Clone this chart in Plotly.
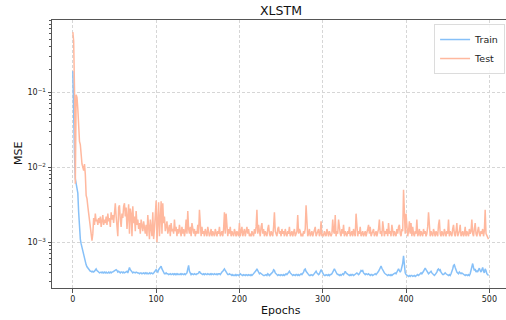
import plotly.graph_objects as go

# Test MSE (units of 1e-3), epochs 0..499
test_e3 = [
    630, 480, 110, 6, 92, 85, 60, 26, 22, 20,
    12, 11, 10, 9, 11, 8, 4.2, 3.8, 3.0, 2.4,
    1.8, 1.4, 1.1, 1.05, 1.3, 2.1, 1.7, 2.4, 1.9, 2.0,
    1.7, 2.1, 1.8, 2.2, 1.6, 1.9, 2.3, 1.7, 2.0, 1.8,
    2.2, 1.7, 2.4, 1.9, 2.1, 1.6, 2.5, 2.0, 2.3, 1.8,
    2.8, 3.3, 2.2, 1.5, 1.2, 2.9, 3.1, 2.0, 1.6, 2.4,
    2.1, 3.0, 3.3, 2.2, 2.9, 1.5, 2.6, 3.2, 1.3, 2.8,
    2.4, 1.2, 3.0, 1.8, 2.2, 1.4, 2.6, 1.7, 2.0, 1.5,
    1.8, 1.3, 2.0, 1.6, 1.4, 1.9, 1.5, 1.3, 1.7, 1.2,
    2.3, 1.4, 1.1, 2.0, 1.6, 1.2, 2.5, 1.1, 1.5, 3.0,
    3.6, 1.0, 2.0, 3.4, 1.2, 2.8, 3.5, 1.3, 3.3, 1.8,
    2.2, 1.4, 1.6, 1.9, 1.3, 1.5, 1.7, 1.2, 1.8, 1.4,
    1.5, 1.3, 2.0, 1.4, 1.6, 1.2, 1.5, 1.3, 1.7, 1.4,
    1.2, 1.6, 1.3, 1.5, 1.2, 1.4, 2.0, 1.3, 2.6, 1.5,
    1.3, 1.6, 1.2, 1.8, 1.4, 1.3, 1.5, 1.2, 1.4, 1.3,
    1.7, 1.3, 2.7, 1.5, 1.2, 1.6, 1.3, 1.4, 1.2, 1.5,
    1.3, 1.2, 1.6, 1.4, 1.2, 1.3, 1.5, 1.2, 1.4, 1.3,
    1.2, 1.5, 1.3, 1.2, 1.4, 1.3, 1.6, 1.2, 1.3, 1.4,
    1.2, 1.5, 2.5, 1.3, 2.4, 1.4, 1.2, 1.5, 1.3, 1.6,
    1.2, 1.4, 1.3, 1.2, 1.5, 1.3, 1.2, 1.4, 1.3, 1.2,
    1.8, 1.2, 1.4, 1.6, 1.2, 1.3, 1.5, 1.2, 1.4, 1.6,
    1.3, 1.5, 1.2, 1.3, 1.2, 1.4, 1.3, 1.2, 1.5, 1.3,
    1.6, 2.7, 1.3, 1.7, 1.4, 1.2, 1.6, 1.8, 1.3, 1.5,
    1.2, 1.4, 1.3, 1.2, 1.5, 1.7, 1.3, 1.2, 1.4, 1.3,
    1.2, 1.6, 2.5, 1.4, 1.3, 1.2, 1.5, 1.6, 1.3, 1.4,
    1.2, 1.5, 1.3, 1.4, 1.2, 1.5, 1.3, 1.2, 1.4, 1.3,
    1.6, 1.2, 1.3, 1.4, 1.2, 1.3, 1.5, 1.2, 1.3, 1.4,
    2.3, 1.3, 1.5, 1.4, 1.2, 1.3, 1.2, 1.4, 1.3, 1.5,
    3.1, 1.4, 1.2, 1.3, 1.5, 1.2, 1.3, 1.4, 1.2, 1.3,
    1.5, 1.6, 1.2, 1.3, 1.4, 1.5, 1.2, 1.3, 1.9, 1.2,
    1.3, 1.2, 1.4, 1.3, 1.2, 1.5, 1.3, 1.2, 1.4, 1.3,
    1.2, 1.3, 2.0, 1.4, 1.3, 2.3, 1.2, 1.4, 1.3, 2.0,
    1.4, 1.3, 1.2, 1.5, 1.3, 1.7, 1.2, 1.4, 1.3, 1.2,
    1.4, 1.3, 1.6, 1.2, 1.3, 1.4, 1.2, 1.5, 1.3, 1.2,
    2.4, 1.3, 1.2, 1.4, 1.3, 1.6, 1.2, 1.3, 1.4, 1.2,
    1.3, 1.4, 1.2, 1.3, 1.5, 1.7, 1.3, 1.6, 1.2, 1.3,
    1.4, 1.5, 1.2, 1.3, 1.4, 1.2, 1.3, 1.5, 2.0, 1.3,
    1.4, 1.2, 1.9, 1.3, 1.2, 1.4, 1.3, 1.5, 1.2, 1.8,
    1.3, 1.4, 1.2, 1.7, 1.3, 1.2, 1.4, 1.3, 1.2, 1.5,
    1.3, 1.6, 1.7, 1.3, 1.2, 1.5, 1.4, 5.0, 1.8, 1.3,
    2.4, 1.3, 1.2, 1.4, 1.9, 1.3, 1.8, 1.2, 1.6, 1.3,
    1.2, 1.4, 1.3, 2.0, 1.2, 1.3, 1.5, 1.2, 1.4, 1.3,
    1.2, 1.5, 1.3, 1.4, 1.2, 1.3, 1.6, 2.5, 1.3, 1.2,
    1.4, 1.3, 1.2, 1.5, 1.3, 1.2, 1.4, 1.3, 1.2, 1.7,
    2.0, 1.3, 1.2, 1.4, 1.3, 1.2, 1.5, 1.3, 1.2, 1.4,
    1.3, 2.0, 1.2, 1.4, 1.3, 1.2, 1.5, 1.7, 1.3, 1.2,
    1.4, 1.8, 1.2, 1.3, 1.4, 1.7, 1.2, 1.3, 1.4, 1.2,
    1.3, 1.6, 1.2, 1.4, 1.3, 1.2, 1.5, 1.3, 1.4, 2.0,
    1.3, 1.2, 1.5, 1.8, 1.3, 1.2, 1.4, 1.6, 1.3, 1.2,
    1.4, 1.3, 1.5, 1.2, 1.4, 2.7, 1.3, 1.2, 1.15, 1.1,
]

# Train MSE (units of 1e-4), epochs 0..499
train_e4 = [
    1900, 300, 150, 70, 60, 50, 45, 25, 13, 11,
    9.5, 8.5, 7.5, 6.6, 6.0, 5.4, 5.0, 4.7, 4.5, 4.4,
    4.2, 4.1, 4.1, 4.0, 4.1, 4.0, 4.1, 4.3, 4.4, 4.2,
    4.0, 4.0, 3.9, 4.0, 4.0, 3.9, 4.0, 3.9, 4.0, 3.9,
    4.0, 3.9, 3.9, 4.0, 3.9, 4.0, 3.9, 4.0, 4.0, 4.1,
    4.2, 4.3, 4.3, 4.2, 4.0, 4.1, 4.0, 3.9, 4.0, 4.0,
    3.9, 4.0, 3.9, 4.0, 4.0, 4.1, 3.9, 4.2, 4.6, 4.3,
    4.1, 4.0, 3.9, 4.0, 3.9, 3.9, 4.0, 3.9, 3.9, 3.9,
    3.8, 3.9, 3.9, 3.8, 3.9, 3.9, 3.8, 3.9, 3.8, 3.9,
    3.8, 3.8, 3.9, 3.8, 3.9, 3.8, 3.8, 3.9, 4.0, 4.2,
    4.3, 4.1, 4.0, 4.3, 4.5, 4.7, 4.8, 4.4, 4.1, 3.9,
    3.8, 3.8, 3.9, 3.8, 3.8, 3.7, 3.8, 3.8, 3.7, 3.8,
    3.8, 3.7, 3.8, 3.7, 3.8, 3.7, 3.8, 3.7, 3.7, 3.8,
    3.7, 3.8, 3.7, 3.7, 3.8, 3.7, 3.8, 3.9, 4.4, 4.9,
    4.1, 3.8, 3.7, 3.8, 3.7, 3.7, 3.8, 3.7, 3.7, 3.8,
    3.8, 3.9, 4.1, 3.9, 3.8, 3.7, 3.7, 3.8, 3.7, 3.8,
    3.7, 3.7, 3.8, 3.7, 3.7, 3.8, 3.7, 3.8, 3.7, 3.7,
    3.8, 3.7, 3.7, 3.8, 3.7, 3.8, 3.8, 3.7, 3.9, 4.0,
    4.1, 4.3, 4.4, 4.2, 4.0, 3.8, 3.7, 3.7, 3.8, 3.7,
    3.7, 3.6, 3.7, 3.6, 3.6, 3.7, 3.6, 3.7, 3.6, 3.6,
    3.7, 3.8, 3.7, 3.6, 3.6, 3.7, 3.6, 3.6, 3.7, 3.6,
    3.6, 3.7, 3.6, 3.6, 3.7, 3.6, 3.7, 3.8, 3.9, 4.0,
    4.2, 4.4, 4.1, 3.9, 3.8, 3.9, 3.8, 3.7, 3.7, 3.6,
    3.6, 3.7, 3.7, 3.6, 3.8, 3.7, 3.6, 3.7, 3.8, 3.9,
    4.0, 4.3, 4.2, 3.9, 3.8, 3.7, 3.6, 3.7, 3.6, 3.6,
    3.7, 3.6, 3.6, 3.7, 3.6, 3.7, 3.8, 3.7, 3.8, 4.0,
    4.1, 3.9, 3.8, 3.7, 3.6, 3.7, 3.6, 3.6, 3.7, 3.7,
    3.6, 3.7, 3.6, 3.7, 3.8, 3.7, 3.8, 4.0, 4.3, 4.4,
    4.1, 3.9, 3.7, 3.7, 3.6, 3.6, 3.7, 3.6, 3.6, 3.7,
    3.8, 3.9, 4.1, 3.9, 3.7, 3.7, 3.8, 4.0, 4.3, 4.1,
    3.8, 3.7, 3.6, 3.6, 3.7, 3.6, 3.6, 3.7, 3.6, 3.7,
    3.7, 3.8, 4.0, 4.2, 4.4, 4.2, 3.9, 3.8, 3.7, 3.7,
    3.6, 3.7, 3.6, 3.7, 3.8, 3.7, 3.9, 4.1, 3.9, 3.8,
    3.7, 3.6, 3.6, 3.7, 3.6, 3.7, 3.7, 3.6, 3.7, 3.8,
    3.8, 3.9, 3.8, 3.7, 3.8, 4.0, 4.2, 4.1, 4.2, 3.9,
    3.8, 3.7, 3.8, 3.7, 3.7, 3.8, 3.7, 3.6, 3.7, 3.7,
    3.6, 3.7, 3.7, 3.8, 3.7, 3.8, 3.9, 4.1, 4.3, 4.6,
    4.8, 4.5, 4.2, 4.0, 3.9, 3.8, 3.7, 3.6, 3.6, 3.7,
    3.6, 3.6, 3.7, 3.6, 3.7, 3.8, 3.8, 3.9, 3.8, 4.0,
    4.1, 4.4, 4.2, 4.0, 4.2, 4.6, 5.2, 6.6, 5.0, 3.9,
    3.7, 3.6, 3.6, 3.5, 3.6, 3.5, 3.6, 3.6, 3.5, 3.6,
    3.6, 3.5, 3.6, 3.6, 3.7, 3.6, 3.7, 3.8, 3.9, 3.8,
    3.9, 4.1, 4.3, 4.5, 4.3, 4.1, 3.9, 3.8, 3.9, 4.0,
    4.1, 3.9, 3.8, 3.7, 3.6, 3.7, 3.8, 4.0, 4.3, 4.4,
    4.2, 4.3, 4.0, 3.8, 3.7, 3.7, 3.8, 3.9, 3.8, 3.7,
    3.7, 3.6, 3.7, 3.6, 3.8, 4.0, 4.4, 4.9, 5.0, 4.6,
    4.2, 4.0, 3.9, 3.8, 4.0, 3.9, 3.8, 3.9, 3.8, 3.7,
    3.6, 3.6, 3.7, 3.6, 3.6, 3.7, 3.6, 3.8, 4.2, 4.8,
    5.2, 4.6, 4.2, 4.4, 4.0, 4.2, 4.0, 4.3, 4.5, 4.2,
    4.0, 4.3, 4.6, 4.1, 3.9, 4.4, 4.2, 3.8, 3.7, 3.6,
]

epochs = list(range(len(test_e3)))
test = [v * 1e-3 for v in test_e3]
train = [v * 1e-4 for v in train_e4]

x_ticks = [0, 100, 200, 300, 400, 500]
y_ticks = [1e-3, 1e-2, 1e-1]
y_tick_text = ["10<sup>−3</sup>", "10<sup>−2</sup>", "10<sup>−1</sup>"]
y_minor = [m * d for d in (1e-4, 1e-3, 1e-2, 1e-1) for m in range(2, 10)]

FONT = "DejaVu Sans"
AX = "#555555"
GRID = "#d6d6d6"

fig = go.Figure()
fig.add_trace(go.Scatter(x=epochs, y=train, mode="lines", name="Train",
                         line=dict(color="#86c0f8", width=1.5)))
fig.add_trace(go.Scatter(x=epochs, y=test, mode="lines", name="Test",
                         line=dict(color="#ffb89e", width=1.5)))

fig.update_layout(
    width=506, height=320,
    margin=dict(l=52, r=0, t=20, b=32),
    plot_bgcolor="white", paper_bgcolor="white",
    font=dict(family=FONT, color="#222222", size=8),
    showlegend=True,
    legend=dict(x=0.998, y=0.985, xanchor="right", yanchor="top",
                bgcolor="rgba(255,255,255,0.85)", bordercolor="#dcdcdc", borderwidth=1,
                font=dict(size=9.5, family=FONT, color="#222222"),
                itemwidth=30, tracegroupgap=0),
    title=dict(text="XLSTM", x=281 / 506, xanchor="center", xref="container",
               y=1 - 11 / 320, yanchor="middle", yref="container",
               font=dict(size=12.5, family=FONT, color="#111111")),
)

fig.update_xaxes(
    range=[-25, 520], tickvals=x_ticks, ticktext=[str(t) for t in x_ticks],
    showline=True, linecolor=AX, linewidth=1, mirror=True,
    ticks="outside", ticklen=3.5, tickcolor=AX, tickwidth=0.8,
    showgrid=True, gridcolor=GRID, griddash="3px,2px", gridwidth=0.8,
    zeroline=False, tickfont=dict(size=8, family=FONT, color="#222222"),
)
fig.update_yaxes(
    type="log", range=[-3.61, -0.04],
    tickvals=y_ticks, ticktext=y_tick_text,
    showline=True, linecolor=AX, linewidth=1, mirror=False,
    ticks="outside", ticklen=3.5, tickcolor=AX, tickwidth=0.8,
    showgrid=True, gridcolor=GRID, griddash="3px,2px", gridwidth=0.8,
    zeroline=False, tickfont=dict(size=8, family=FONT, color="#222222"),
    minor=dict(tickmode="array", tickvals=y_minor, ticks="outside", ticklen=2,
               tickcolor=AX, tickwidth=0.6, showgrid=False),
)

fig.add_annotation(text="Epochs", xref="paper", yref="paper",
                   x=(281 - 52) / 454, y=-(310 - 288) / 268,
                   xanchor="center", yanchor="middle", showarrow=False,
                   font=dict(size=11, family=FONT, color="#111111"))
fig.add_annotation(text="MSE", xref="paper", yref="paper",
                   x=-(52 - 18) / 454, y=(288 - 154) / 268, textangle=-90,
                   xanchor="center", yanchor="middle", showarrow=False,
                   font=dict(size=11, family=FONT, color="#111111"))

fig.write_html("out.html")
